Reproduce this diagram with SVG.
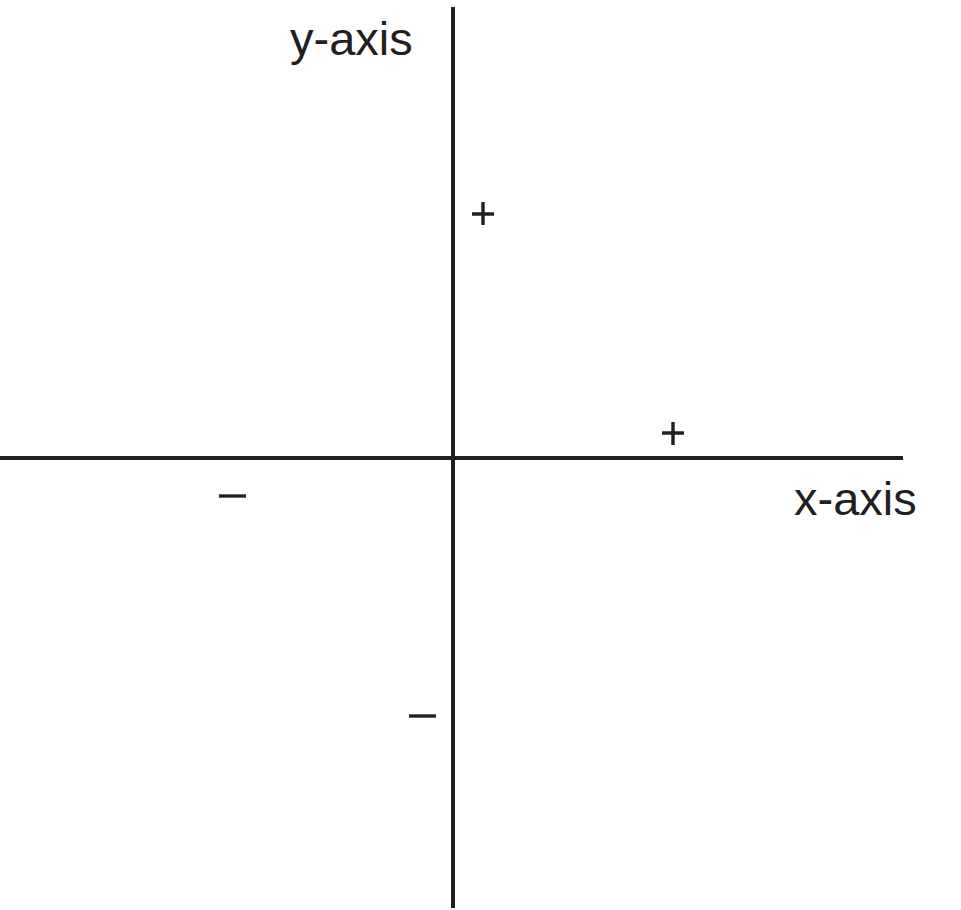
<svg xmlns="http://www.w3.org/2000/svg" width="961" height="910" viewBox="0 0 961 910">
<style>
.axis{stroke:#231f20;stroke-width:4;fill:none}
.sign{stroke:#231f20;stroke-width:3.4;fill:none}
.lbl{font-family:"Liberation Sans",Arial,sans-serif;font-size:47px;fill:#231f20}
</style>
<rect width="961" height="910" fill="#fff"/>
<g id="axes">
<line id="x-axis-line" class="axis" x1="0" y1="458" x2="903" y2="458"/>
<line id="y-axis-line" class="axis" x1="453" y1="7" x2="453" y2="908"/>
</g>
<g id="y-axis-label"><text class="lbl" x="290" y="55">y-axis</text></g>
<g id="x-axis-label"><text class="lbl" x="794" y="515">x-axis</text></g>
<g id="y-plus"><path class="sign" d="M472 214H494M483 202V225"/></g>
<g id="x-plus"><path class="sign" d="M662 433H684M673 422V445"/></g>
<g id="x-minus"><path class="sign" d="M219 496H246"/></g>
<g id="y-minus"><path class="sign" d="M409 716H436"/></g>
</svg>
